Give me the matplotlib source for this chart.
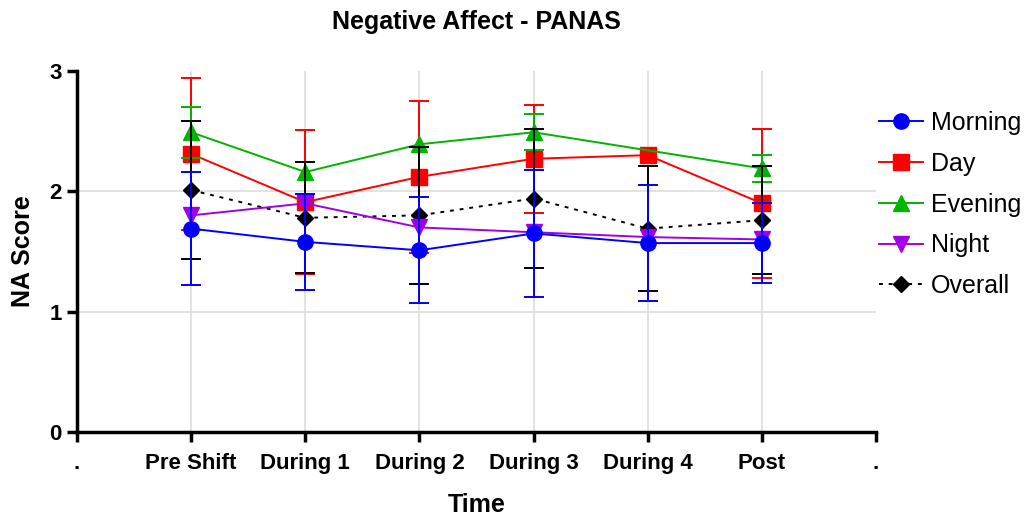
import numpy as np
import matplotlib
matplotlib.use("Agg")
import matplotlib.pyplot as plt
from matplotlib.lines import Line2D

plt.rcParams['font.family'] = ['Liberation Sans', 'DejaVu Sans']

tick_labels = [".", "Pre Shift", "During 1", "During 2", "During 3", "During 4", "Post", "."]
timepoints = ["Pre Shift", "During 1", "During 2", "During 3", "During 4", "Post"]

nan = np.nan
morning_mean = [1.69, 1.58, 1.51, 1.65, 1.57, 1.57]
morning_sd = [0.47, 0.40, 0.44, 0.53, 0.48, 0.33]
day_mean = [2.31, 1.91, 2.12, 2.27, 2.30, 1.90]
day_sd = [0.63, 0.60, 0.63, 0.45, nan, 0.62]
evening_mean = [2.49, 2.16, 2.39, 2.49, nan, 2.19]
evening_sd = [0.21, nan, nan, 0.15, nan, 0.11]
night_mean = [1.80, 1.90, 1.70, 1.66, 1.62, 1.60]
night_sd = [nan, nan, nan, nan, nan, nan]
overall_mean = [2.01, 1.78, 1.80, 1.94, 1.69, 1.76]
overall_sd = [0.57, 0.46, 0.57, 0.58, 0.52, 0.45]

series = [
    ("Morning", morning_mean, morning_sd, "#0000FF", "o", "-", 11, 6),
    ("Day", day_mean, day_sd, "#FF0000", "s", "-", 11, 2),
    ("Evening", evening_mean, evening_sd, "#00B400", "^", "-", 12, 3),
    ("Night", night_mean, night_sd, "#A000E6", "v", "-", 12, 5),
    ("Overall", overall_mean, overall_sd, "#000000", "D", (0, (2, 3)), 8, 4),
]

fig = plt.figure(figsize=(10.27, 5.17), dpi=100)
ax = fig.add_axes([0.075, 0.164, 0.778, 0.699])

xpos = np.arange(1, len(timepoints) + 1)
handles = []
for name, mean, sd, color, marker, ls, ms, z in series:
    m = np.array(mean, dtype=float)
    s = np.array(sd, dtype=float)
    ok = np.isfinite(m)
    ax.plot(xpos[ok], m[ok], color=color, ls=ls, lw=1.4, zorder=z)
    eok = ok & np.isfinite(s)
    if eok.any():
        ax.errorbar(xpos[eok], m[eok], yerr=s[eok], fmt='none', ecolor=color,
                    elinewidth=1.4, capsize=7.5, capthick=1.4, zorder=z)
    ax.plot(xpos[ok], m[ok], ls='none', marker=marker, ms=ms, color=color,
            mec=color, zorder=z + 0.5)
    handles.append(Line2D([0], [0], color=color, ls=ls, lw=1.4, marker=marker,
                          ms=ms, mec=color))

ax.set_xlim(0, 7)
ax.set_ylim(0, 3)
for xv in xpos:
    ax.axvline(xv, color='#DDDDDD', lw=1.2, zorder=0)
for yv in [1, 2]:
    ax.axhline(yv, color='#DDDDDD', lw=1.2, zorder=0)
ax.set_xticks(np.arange(0, 8))
ax.set_xticklabels(tick_labels, fontsize=16, fontweight='bold')
ax.set_yticks([0, 1, 2, 3])
ax.set_yticklabels(["0", "1", "2", "3"], fontsize=16, fontweight='bold')
for sp in ['top', 'right']:
    ax.spines[sp].set_visible(False)
for sp in ['left', 'bottom']:
    ax.spines[sp].set_linewidth(2.5)
ax.tick_params(axis='x', width=2.5, length=7, direction='out', pad=8)
ax.tick_params(axis='y', width=2.5, length=7, direction='out', pad=4)
ax.set_xlabel("Time", fontsize=18, fontweight='bold', labelpad=14)
ax.set_ylabel("NA Score", fontsize=18, fontweight='bold', labelpad=10)
ax.set_title("Negative Affect - PANAS", fontsize=18, fontweight='bold', pad=30)

fig.legend(handles, [s[0] for s in series], loc='upper left',
           bbox_to_anchor=(0.856, 0.785), frameon=False, fontsize=18,
           borderpad=0, borderaxespad=0,
           labelspacing=0.67, handlelength=1.75, handletextpad=0.33)

fig.savefig("out.png", dpi=100)
